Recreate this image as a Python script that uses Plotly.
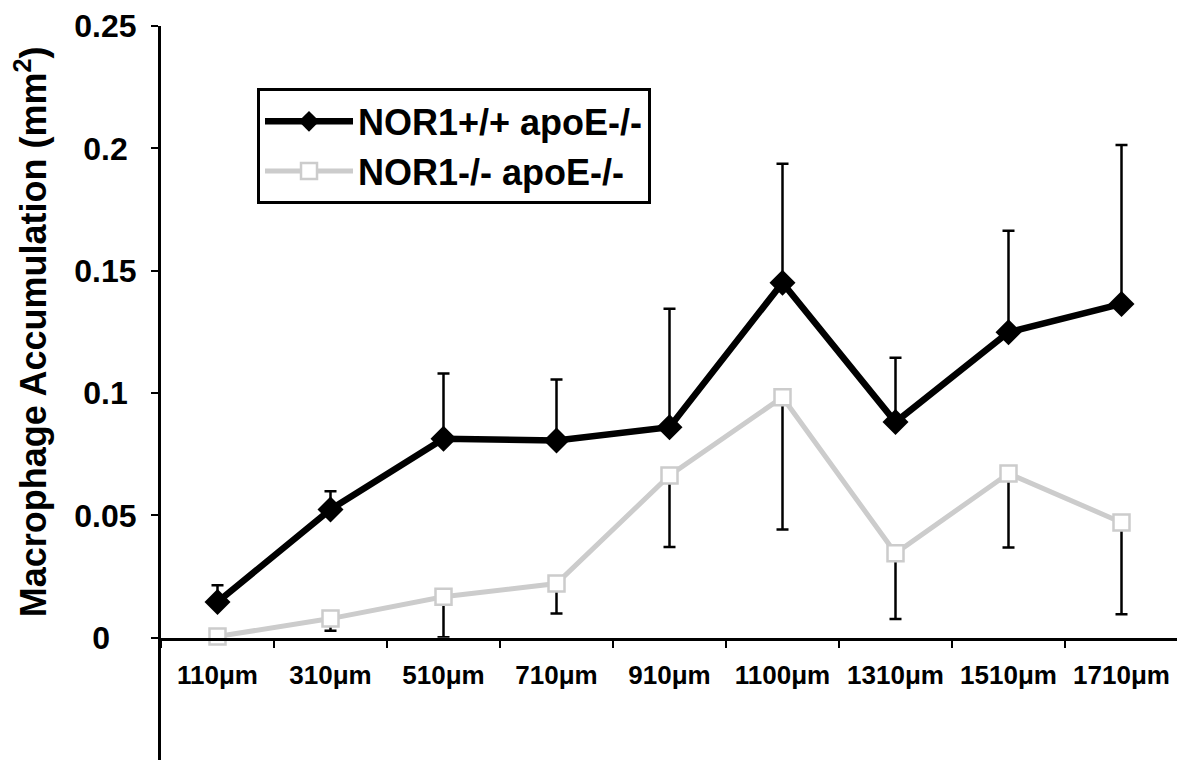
import plotly.graph_objects as go

categories = ["110\u03bcm", "310\u03bcm", "510\u03bcm", "710\u03bcm", "910\u03bcm",
              "1100\u03bcm", "1310\u03bcm", "1510\u03bcm", "1710\u03bcm"]

wt_name = "NOR1+/+ apoE-/-"
wt_mean = [0.0146, 0.0524, 0.0813, 0.0806, 0.0860, 0.1451, 0.0881, 0.1248, 0.1364]
wt_upper = [0.0214, 0.0598, 0.1080, 0.1055, 0.1344, 0.1937, 0.1144, 0.1663, 0.2014]

ko_name = "NOR1-/- apoE-/-"
ko_mean = [0.0005, 0.0078, 0.0167, 0.0221, 0.0663, 0.0983, 0.0345, 0.0671, 0.0471]
ko_lower = [0.0005, 0.0028, 0.0002, 0.0099, 0.0371, 0.0442, 0.0076, 0.0369, 0.0096]

y_ticks = [0, 0.05, 0.1, 0.15, 0.2, 0.25]
# labels are centred in the reference: pad shorter ones with no-break spaces
NB = "\u00a0"
y_ticktext = ["0" + NB * 3, "0.05", "0.1" + NB, "0.15", "0.2" + NB, "0.25"]

wt_err_plus = [u - m for u, m in zip(wt_upper, wt_mean)]
ko_err_minus = [m - l for m, l in zip(ko_mean, ko_lower)]

FONT = "Liberation Sans, Arial, sans-serif"
SPLIT = 0.05 / 0.30  # share of the axis below zero

fig = go.Figure()

fig.add_trace(go.Scatter(
    x=categories, y=ko_mean, name=ko_name, mode="lines+markers",
    line=dict(color="#cccccc", width=5),
    marker=dict(symbol="square", size=16, color="white",
                line=dict(color="#cccccc", width=2.5)),
    error_y=dict(type="data", symmetric=False, array=[0] * len(ko_mean),
                 arrayminus=ko_err_minus, color="black", thickness=2.5, width=6),
    cliponaxis=False, legendrank=2,
))

fig.add_trace(go.Scatter(
    x=categories, y=wt_mean, name=wt_name, mode="lines+markers",
    line=dict(color="black", width=6.5),
    marker=dict(symbol="diamond", size=20, color="black"),
    error_y=dict(type="data", symmetric=False, array=wt_err_plus,
                 arrayminus=[0] * len(wt_mean), color="black", thickness=2.5, width=6),
    cliponaxis=False, legendrank=1,
))

# empty trace so the lower part of the vertical axis (below zero) is drawn
fig.add_trace(go.Scatter(x=[], y=[], yaxis="y2", showlegend=False, hoverinfo="skip"))

# the page body adds an 8px offset, so the figure is drawn 8px smaller
fig.update_layout(
    width=1177, height=753,
    margin=dict(l=153, r=7, t=18, b=1, autoexpand=False),
    paper_bgcolor="white", plot_bgcolor="white",
    font=dict(family=FONT, color="black"),
    showlegend=True,
    legend=dict(
        x=0.0944, y=0.915, xanchor="left", yanchor="top",
        bgcolor="white", bordercolor="black", borderwidth=3,
        font=dict(family=FONT, size=36, color="black", weight="bold"),
        itemwidth=88,
    ),
    xaxis=dict(
        type="category", anchor="y",
        showline=True, linecolor="black", linewidth=3,
        ticks="outside", tickson="boundaries", ticklen=7, tickwidth=2, tickcolor="black",
        showgrid=False, zeroline=False, automargin=False,
        tickfont=dict(family=FONT, size=26, color="black", weight="bold"),
        ticklabelstandoff=12, ticklabeloverflow="allow",
        range=[-0.5, 8.5],
    ),
    yaxis=dict(
        domain=[SPLIT, 1], range=[0, 0.25001], automargin=False, anchor="x",
        showline=True, linecolor="black", linewidth=3,
        ticks="outside", ticklen=7, tickwidth=2, tickcolor="black",
        tickvals=y_ticks, ticktext=y_ticktext,
        showgrid=False, zeroline=False,
        tickfont=dict(family=FONT, size=32, color="black", weight="bold"),
        ticklabelstandoff=8, ticklabeloverflow="allow",
        title=dict(text="Macrophage Accumulation (mm<sup>2</sup>)",
                   font=dict(family=FONT, size=36, color="black", weight="bold"),
                   standoff=30),
    ),
    yaxis2=dict(
        domain=[0, SPLIT], range=[-0.05, 0], anchor="x", automargin=False,
        showline=True, linecolor="black", linewidth=3,
        ticks="", showticklabels=False, showgrid=False, zeroline=False,
    ),
)

fig.write_html("out.html")
